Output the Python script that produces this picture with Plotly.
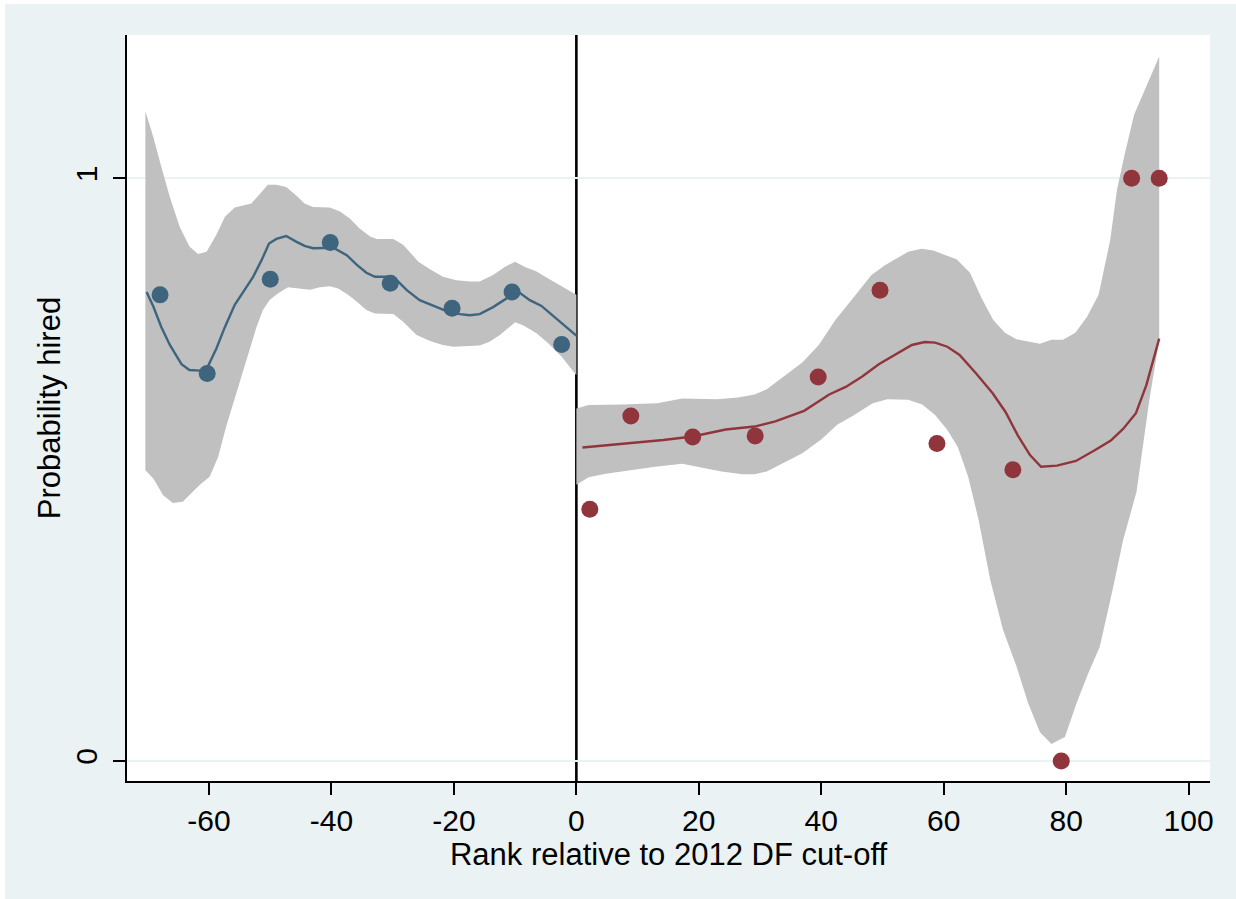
import plotly.graph_objects as go

# ---- binned means (points) ----
left_bin_x = [-68.0, -60.3, -50.0, -40.2, -30.4, -20.3, -10.5, -2.4]
left_bin_y = [0.800, 0.665, 0.827, 0.890, 0.820, 0.777, 0.805, 0.715]

right_bin_x = [2.2, 8.9, 19.0, 29.2, 39.5, 49.6, 58.9, 71.3, 79.2, 90.7, 95.2]
right_bin_y = [0.432, 0.592, 0.556, 0.558, 0.659, 0.808, 0.545, 0.500, 0.0, 1.0, 1.0]

# ---- local polynomial fit, left of cut-off ----
left_fit_x = [-70.2, -69.1, -67.8, -66.4, -64.5, -63.2, -61.5, -60.2, -58.8, -57.4,
              -55.8, -54.4, -52.8, -51.4, -50.2, -49.0, -47.4, -45.7, -44.4, -43.0,
              -41.4, -39.7, -37.5, -35.9, -34.3, -32.9, -29.9, -27.7, -25.6, -23.4,
              -21.2, -19.0, -17.4, -15.8, -13.6, -11.4, -9.2, -7.6, -5.7, -3.8, -1.6, 0.0]
left_fit_y = [0.805, 0.780, 0.745, 0.714, 0.681, 0.671, 0.670, 0.677, 0.708, 0.745,
              0.783, 0.805, 0.831, 0.860, 0.888, 0.896, 0.901, 0.891, 0.884, 0.880,
              0.881, 0.881, 0.868, 0.852, 0.838, 0.831, 0.831, 0.808, 0.791, 0.781,
              0.772, 0.767, 0.765, 0.767, 0.779, 0.794, 0.803, 0.791, 0.781, 0.764, 0.745, 0.730]

left_ci_hi_x = [-70.4, -69.1, -67.8, -66.4, -64.8, -63.2, -61.8, -60.4, -58.8, -57.4,
                -55.8, -54.4, -53.1, -51.7, -50.4, -49.0, -47.4, -45.7, -44.4, -43.0,
                -40.3, -38.6, -37.0, -35.4, -33.7, -32.6, -29.9, -28.3, -25.8, -23.9,
                -21.8, -19.6, -17.4, -15.8, -13.6, -11.7, -10.0, -8.4, -6.5, -4.6, -2.7, 0.0]
left_ci_hi = [1.115, 1.071, 1.020, 0.968, 0.917, 0.883, 0.870, 0.874, 0.903, 0.934,
              0.950, 0.954, 0.957, 0.973, 0.989, 0.989, 0.985, 0.970, 0.957, 0.951,
              0.950, 0.943, 0.931, 0.914, 0.900, 0.896, 0.896, 0.886, 0.857, 0.844,
              0.831, 0.825, 0.823, 0.823, 0.834, 0.848, 0.857, 0.848, 0.840, 0.828, 0.816, 0.800]

left_ci_lo_x = [-70.4, -69.1, -67.5, -65.9, -64.3, -62.9, -61.5, -59.9, -58.5, -57.2,
                -55.5, -53.9, -52.3, -51.2, -50.1, -48.7, -47.1, -45.2, -43.5, -41.9,
                -40.3, -38.9, -37.3, -35.7, -34.3, -32.9, -31.3, -29.9, -28.3, -26.1,
                -23.9, -21.8, -20.1, -18.5, -15.8, -14.1, -12.5, -10.0, -8.7, -6.5, -4.6, -2.4, 0.0]
left_ci_lo = [0.499, 0.485, 0.456, 0.443, 0.445, 0.459, 0.474, 0.488, 0.522, 0.574,
              0.631, 0.688, 0.743, 0.774, 0.791, 0.803, 0.813, 0.811, 0.809, 0.813,
              0.815, 0.811, 0.800, 0.787, 0.774, 0.768, 0.768, 0.767, 0.754, 0.731,
              0.721, 0.714, 0.711, 0.711, 0.713, 0.720, 0.731, 0.753, 0.748, 0.734, 0.717, 0.694, 0.662]

# ---- local polynomial fit, right of cut-off ----
right_fit_x = [1.0, 7.5, 14.2, 19.0, 24.4, 29.1, 32.5, 37.2, 41.3, 44.0, 46.7, 49.4,
               52.1, 54.8, 56.9, 58.6, 60.6, 62.6, 65.3, 68.0, 70.1, 72.1, 74.1, 75.9,
               78.5, 81.6, 84.6, 87.3, 89.3, 91.4, 93.1, 95.2]
right_fit_y = [0.538, 0.544, 0.551, 0.557, 0.569, 0.574, 0.583, 0.601, 0.629, 0.642,
               0.660, 0.681, 0.698, 0.714, 0.719, 0.718, 0.711, 0.697, 0.665, 0.631,
               0.599, 0.559, 0.525, 0.505, 0.507, 0.515, 0.533, 0.550, 0.570, 0.597, 0.645, 0.725]

right_ci_hi_x = [0.0, 2.0, 7.5, 13.2, 17.3, 23.0, 26.4, 29.1, 31.1, 33.9, 36.9, 39.6,
                 42.3, 45.4, 48.2, 50.4, 54.2, 56.4, 58.3, 62.1, 64.3, 66.2, 68.1, 70.0,
                 71.9, 75.7, 77.6, 79.5, 81.5, 83.4, 85.3, 87.2, 88.3, 89.6, 91.1, 95.2]
right_ci_hi = [0.605, 0.611, 0.612, 0.614, 0.622, 0.621, 0.624, 0.629, 0.638, 0.660,
               0.684, 0.714, 0.757, 0.797, 0.834, 0.851, 0.874, 0.879, 0.876, 0.861,
               0.838, 0.794, 0.757, 0.735, 0.724, 0.716, 0.723, 0.723, 0.735, 0.762,
               0.800, 0.894, 0.980, 1.043, 1.109, 1.209]

right_ci_lo_x = [0.0, 2.0, 4.8, 8.8, 12.9, 17.3, 19.6, 23.7, 27.1, 29.1, 31.1, 33.9,
                 36.9, 40.0, 42.6, 45.4, 48.4, 50.8, 54.2, 56.5, 58.6, 60.6, 62.3, 64.0,
                 65.7, 67.6, 69.7, 71.9, 73.8, 75.7, 77.6, 79.8, 81.7, 83.6, 85.5, 87.7,
                 89.3, 91.5, 93.6, 95.2]
right_ci_lo = [0.474, 0.487, 0.493, 0.499, 0.505, 0.510, 0.505, 0.497, 0.492, 0.492,
               0.497, 0.512, 0.528, 0.552, 0.577, 0.594, 0.614, 0.621, 0.620, 0.612,
               0.594, 0.568, 0.539, 0.488, 0.414, 0.311, 0.225, 0.162, 0.099, 0.050,
               0.029, 0.041, 0.099, 0.150, 0.196, 0.299, 0.379, 0.462, 0.620, 0.722]

x_ticks = [-60, -40, -20, 0, 20, 40, 60, 80, 100]
x_tick_labels = ["-60", "-40", "-20", "0", "20", "40", "60", "80", "100"]
y_ticks = [0, 1]
y_tick_labels = ["0", "1"]

BLUE = "#3E647E"
RED = "#90353B"
BAND = "#C0C0C0"
BG = "#EAF2F3"
FONT = "Liberation Sans, Arial, sans-serif"


def band(xs_hi, hi, xs_lo, lo):
    return go.Scatter(
        x=list(xs_hi) + list(xs_lo)[::-1],
        y=list(hi) + list(lo)[::-1],
        fill="toself", fillcolor=BAND, mode="lines",
        line=dict(width=0, color=BAND), hoverinfo="skip", showlegend=False,
    )


fig = go.Figure()
fig.add_trace(band(left_ci_hi_x, left_ci_hi, left_ci_lo_x, left_ci_lo))
fig.add_trace(band(right_ci_hi_x, right_ci_hi, right_ci_lo_x, right_ci_lo))

fig.add_trace(go.Scatter(x=left_bin_x, y=left_bin_y, mode="markers",
                         marker=dict(size=17, color=BLUE), showlegend=False))
fig.add_trace(go.Scatter(x=right_bin_x, y=right_bin_y, mode="markers",
                         marker=dict(size=17, color=RED), showlegend=False))
fig.add_trace(go.Scatter(x=left_fit_x, y=left_fit_y, mode="lines",
                         line=dict(color=BLUE, width=2.4), showlegend=False))
fig.add_trace(go.Scatter(x=right_fit_x, y=right_fit_y, mode="lines",
                         line=dict(color=RED, width=2.4), showlegend=False))

W, H = 1236, 899
ML, MR, MT, MB = 127, 26, 35, 118
pw, ph = W - ML - MR, H - MT - MB


def px_x(p):
    return (p - ML) / pw


def px_y(p):
    return (H - MB - p) / ph


fig.update_layout(
    width=W, height=H,
    margin=dict(l=ML, r=MR, t=MT, b=MB, pad=0),
    paper_bgcolor="white", plot_bgcolor="white",
    font=dict(family=FONT, color="black", size=30),
    showlegend=False,
    shapes=[
        # outer graph region
        dict(type="rect", xref="paper", yref="paper", layer="below",
             x0=px_x(5), x1=px_x(W + 2), y0=px_y(H + 2), y1=px_y(4),
             fillcolor=BG, line=dict(width=0)),
        # plot region
        dict(type="rect", xref="paper", yref="paper", layer="below",
             x0=0, x1=1, y0=0, y1=1, fillcolor="white", line=dict(width=0)),
        # cut-off line
        dict(type="line", xref="x", yref="paper", layer="between",
             x0=0, x1=0, y0=0, y1=1, line=dict(color="black", width=2.6)),
    ],
    xaxis=dict(
        range=[-73.4, 103.5], tickvals=x_ticks, ticktext=x_tick_labels,
        showgrid=False, zeroline=False,
        showline=True, linecolor="black", linewidth=2,
        ticks="outside", ticklen=12, tickwidth=2, tickcolor="black",
        tickfont=dict(size=30, family=FONT),
        title=dict(text="Rank relative to 2012 DF cut-off",
                   font=dict(size=31, family=FONT), standoff=6),
    ),
    yaxis=dict(
        range=[-0.0343, 1.246], tickvals=y_ticks, ticktext=y_tick_labels,
        tickangle=-90, ticklabelstandoff=4,
        showgrid=True, gridcolor=BG, gridwidth=2, zeroline=False,
        showline=True, linecolor="black", linewidth=2,
        ticks="outside", ticklen=12, tickwidth=2, tickcolor="black",
        tickfont=dict(size=30, family=FONT),
        title=dict(text="Probability hired",
                   font=dict(size=31, family=FONT), standoff=0),
    ),
)

fig.write_html("out.html")
